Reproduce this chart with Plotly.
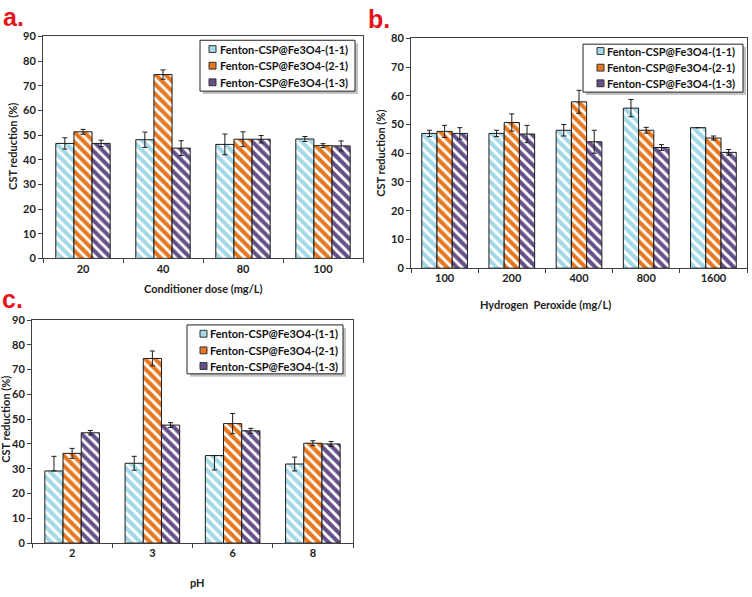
import plotly.graph_objects as go

# ---------------- data ----------------
series_names = ["Fenton-CSP@Fe3O4-(1-1)", "Fenton-CSP@Fe3O4-(2-1)", "Fenton-CSP@Fe3O4-(1-3)"]

# Panel a: conditioner dose
a_categories = ["20", "40", "80", "100"]
a_11 = [46.6, 48.1, 46.2, 48.4]
a_21 = [51.3, 74.5, 48.3, 45.7]
a_13 = [46.6, 44.7, 48.3, 45.6]
a_11_err = [2.3, 3.1, 4.2, 1.0]
a_21_err = [1.0, 1.9, 3.0, 0.8]
a_13_err = [1.3, 3.0, 1.5, 2.0]

# Panel b: hydrogen peroxide
b_categories = ["100", "200", "400", "800", "1600"]
b_11 = [46.9, 46.9, 48.0, 55.7, 48.9]
b_21 = [47.6, 50.7, 57.9, 48.0, 45.3]
b_13 = [46.9, 46.7, 44.0, 42.0, 40.3]
b_11_err = [1.1, 1.1, 2.0, 3.0, 0.0]
b_21_err = [2.1, 3.0, 4.0, 1.0, 0.7]
b_13_err = [2.0, 3.0, 4.0, 1.0, 1.0]

# Panel c: pH
c_categories = ["2", "3", "6", "8"]
c_11 = [29.1, 32.2, 35.3, 31.9]
c_21 = [36.2, 74.5, 48.2, 40.3]
c_13 = [44.5, 47.6, 45.3, 40.0]
c_11_err_plus = [5.9, 2.8, 0.0, 2.8]
c_11_err_minus = [0.0, 2.8, 5.8, 2.8]
c_21_err = [2.0, 3.0, 4.1, 1.0]
c_13_err = [0.9, 1.0, 1.0, 1.0]

colors = ["#A3D8E6", "#E6771E", "#665089"]

W, H = 752, 597
FONT = "Lato"

def px(x):
    return x / W

def py(y):
    return 1 - y / H

fig = go.Figure()

def add_bars(cats, vals, errs_plus, errs_minus, xa, ya):
    for i, (v, ep, em) in enumerate(zip(vals, errs_plus, errs_minus)):
        fig.add_trace(go.Bar(
            x=cats, y=v, name=series_names[i],
            xaxis=xa, yaxis=ya, showlegend=False,
            marker=dict(
                color=colors[i],
                line=dict(color="#1a1a1a", width=1),
                pattern=dict(shape="\\", fgcolor="white", bgcolor=colors[i],
                             size=7, solidity=0.42, fillmode="replace"),
            ),
            error_y=dict(type="data", symmetric=False, array=ep, arrayminus=em,
                         color="#1a1a1a", thickness=1, width=2.5, visible=True),
        ))

add_bars(a_categories, [a_11, a_21, a_13], [a_11_err, a_21_err, a_13_err],
         [a_11_err, a_21_err, a_13_err], "x", "y")
add_bars(b_categories, [b_11, b_21, b_13], [b_11_err, b_21_err, b_13_err],
         [b_11_err, b_21_err, b_13_err], "x2", "y2")
add_bars(c_categories, [c_11, c_21, c_13], [c_11_err_plus, c_21_err, c_13_err],
         [c_11_err_minus, c_21_err, c_13_err], "x3", "y3")

tickfont = dict(family=FONT, size=11, color="#222", weight="bold")
axis_common = dict(showline=True, linecolor="#404040", linewidth=1, mirror=True,
                   showgrid=False, zeroline=False, ticks="outside", ticklen=4,
                   tickcolor="#404040", tickfont=tickfont, fixedrange=True)

def xaxis(domain, anchor):
    return dict(domain=domain, anchor=anchor, type="category", tickson="boundaries",
                **axis_common)

def yaxis(domain, anchor, top):
    return dict(domain=domain, anchor=anchor, range=[0, top], dtick=10, **axis_common)

fig.update_layout(
    width=W, height=H,
    margin=dict(l=0, r=0, t=0, b=0),
    paper_bgcolor="white", plot_bgcolor="white",
    barmode="group", bargap=0.32, bargroupgap=0,
    showlegend=False,
    xaxis=xaxis([px(43), px(363)], "y"),
    yaxis=yaxis([py(257), py(30)], "x", 90),
    xaxis2=xaxis([px(411), px(747)], "y2"),
    yaxis2=yaxis([py(267), py(32)], "x2", 80),
    xaxis3=xaxis([px(32), px(353)], "y3"),
    yaxis3=yaxis([py(548), py(320)], "x3", 90),
)

# ---------- legend boxes (drawn as shapes + text, compact like the original) ----------
legend_font = dict(family=FONT, size=11, color="#111", weight="bold")

def add_legend(x0, y0, x1, y1, rows, marker_x, text_x):
    # shadow
    fig.add_shape(type="rect", xref="paper", yref="paper", layer="above",
                  x0=px(x0 + 3), x1=px(x1 + 3), y0=py(y1 + 3), y1=py(y0 + 3),
                  fillcolor="#9a9a9a", line=dict(width=0), opacity=0.6)
    fig.add_shape(type="rect", xref="paper", yref="paper", layer="above",
                  x0=px(x0), x1=px(x1), y0=py(y1), y1=py(y0),
                  fillcolor="white", line=dict(color="#222", width=1))
    for i, ry in enumerate(rows):
        fig.add_shape(type="rect", xref="paper", yref="paper", layer="above",
                      x0=px(marker_x), x1=px(marker_x + 7), y0=py(ry + 3.5), y1=py(ry - 3.5),
                      fillcolor=colors[i], line=dict(color="#333", width=1))
        fig.add_annotation(xref="paper", yref="paper", showarrow=False,
                           x=px(text_x), y=py(ry), xanchor="left", yanchor="middle",
                           text=series_names[i], font=legend_font)

add_legend(200, 34, 355, 86, [43, 60, 77], 209, 218)
add_legend(583, 38, 743, 87, [45, 62, 78], 597, 605)
add_legend(187, 325, 343, 375, [334, 351, 367], 200, 208)

title_font = dict(family=FONT, size=11, color="#222", weight="bold")
label_font = dict(family="Liberation Sans", size=25, color="#E8141B", weight="bold")

annotations = [
    # axis titles
    dict(text="CST reduction (%)", x=px(13), y=py(143), textangle=-90, font=title_font),
    dict(text="Conditioner dose (mg/L)", x=px(203), y=py(288), font=title_font),
    dict(text="CST reduction (%)", x=px(381), y=py(150), textangle=-90, font=title_font),
    dict(text="Hydrogen  Peroxide (mg/L)", x=px(545), y=py(304), font=title_font),
    dict(text="CST reduction (%)", x=px(6), y=py(422), textangle=-90, font=title_font),
    dict(text="pH", x=px(197), y=py(588), font=title_font),
    # panel labels
    dict(text="a.", x=px(1), y=py(-6), xanchor="left", yanchor="top", font=label_font),
    dict(text="b.", x=px(366), y=py(-4), xanchor="left", yanchor="top", font=label_font),
    dict(text="c.", x=px(0), y=py(282), xanchor="left", yanchor="top", font=label_font),
]
for a in annotations:
    a.setdefault("xanchor", "center")
    a.setdefault("yanchor", "middle")
    fig.add_annotation(xref="paper", yref="paper", showarrow=False, **a)

fig.write_html("out.html")
